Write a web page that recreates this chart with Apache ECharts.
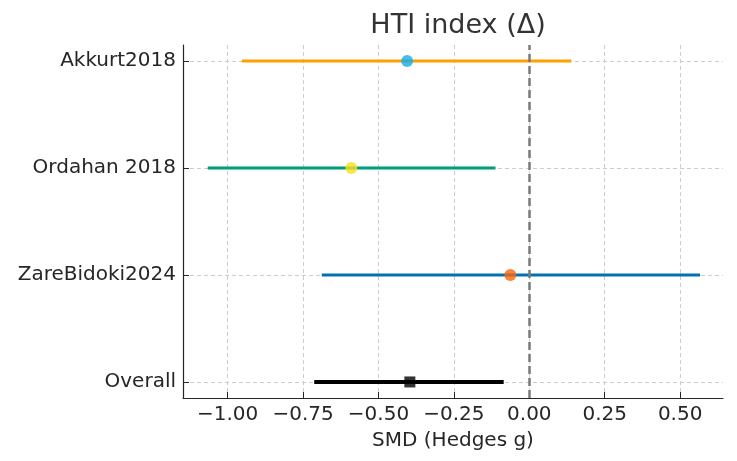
<!DOCTYPE html>
<html lang="en">
  <head>
    <meta charset="UTF-8" />
    <title>HTI index forest plot</title>
    <style>
      html, body { margin: 0; padding: 0; background: #fff; }
      #main { width: 737px; height: 461px; }
    </style>
  </head>
  <body>
    <script src="https://cdn.jsdelivr.net/npm/echarts@6/dist/echarts.min.js"></script>
    <div id="main"></div>
    <script>
      // rows from top to bottom
      const studies = ['Akkurt2018', 'Ordahan 2018', 'ZareBidoki2024', 'Overall']
      const effects = [-0.405, -0.59, -0.063, -0.396]
      const lower = [-0.953, -1.066, -0.688, -0.713]
      const upper = [0.139, -0.112, 0.566, -0.085]
      const xTicks = [-1, -0.75, -0.5, -0.25, 0, 0.25, 0.5]

      const lineColors = ['#FFA000', '#009E78', '#0072B2', '#000000']
      const pointColors = ['#14ABEB', '#F5E11E', '#FA640A', '#000000']

      const n = studies.length
      const rowY = i => n - 1 - i
      const font = 'DejaVu Sans'

      const series = []
      studies.forEach((name, i) => {
        const overall = i === n - 1
        series.push({
          type: 'line',
          name,
          data: [[lower[i], rowY(i)], [upper[i], rowY(i)]],
          symbol: 'none',
          lineStyle: { color: lineColors[i], width: overall ? 4 : 3 },
          z: 3,
          silent: true
        })
        series.push({
          type: 'scatter',
          name: name + ' est',
          data: [[effects[i], rowY(i)]],
          symbol: overall ? 'rect' : 'circle',
          symbolSize: overall ? 11 : 12,
          itemStyle: { color: pointColors[i] },
          z: 4
        })
      })
      series[0].markLine = {
        silent: true,
        symbol: 'none',
        label: { show: false },
        lineStyle: { color: '#7a7a7a', type: [8, 4], width: 2.5 },
        data: [{ xAxis: 0 }]
      }

      const chart = echarts.init(document.getElementById('main'))
      chart.setOption({
        animation: false,
        title: {
          text: 'HTI index (Δ)',
          left: 453,
          top: 7,
          textAlign: 'center',
          textStyle: { fontFamily: font, fontSize: 27, fontWeight: 'normal', color: '#333' }
        },
        grid: { left: 183, right: 14, top: 45, bottom: 63 },
        xAxis: {
          type: 'value',
          min: -1.148,
          max: 0.642,
          name: 'SMD (Hedges g)',
          nameLocation: 'middle',
          nameGap: 33,
          nameTextStyle: { fontFamily: font, fontSize: 20, color: '#262626' },
          axisLine: { show: true, onZero: false, lineStyle: { color: '#262626', width: 1.2 } },
          axisTick: { show: true, inside: true, length: 6, customValues: xTicks, lineStyle: { color: '#262626' } },
          axisLabel: {
            customValues: xTicks,
            fontFamily: font,
            fontSize: 20,
            color: '#262626',
            margin: 7,
            formatter: v => (v < 0 ? '\u2212' : '') + Math.abs(v).toFixed(2)
          },
          splitLine: { show: true, lineStyle: { color: '#cccccc', type: [4, 3], width: 1 } }
        },
        yAxis: {
          type: 'value',
          min: -0.15,
          max: 3.15,
          axisLine: { show: true, onZero: false, lineStyle: { color: '#262626', width: 1.2 } },
          axisTick: { show: true, inside: true, length: 6, customValues: [0, 1, 2, 3], lineStyle: { color: '#262626' } },
          axisLabel: {
            customValues: [0, 1, 2, 3],
            fontFamily: font,
            fontSize: 20,
            color: '#262626',
            margin: 7,
            formatter: v => studies[n - 1 - Math.round(v)]
          },
          splitLine: { show: true, lineStyle: { color: '#cccccc', type: [4, 3], width: 1 } }
        },
        series
      })
    </script>
  </body>
</html>
